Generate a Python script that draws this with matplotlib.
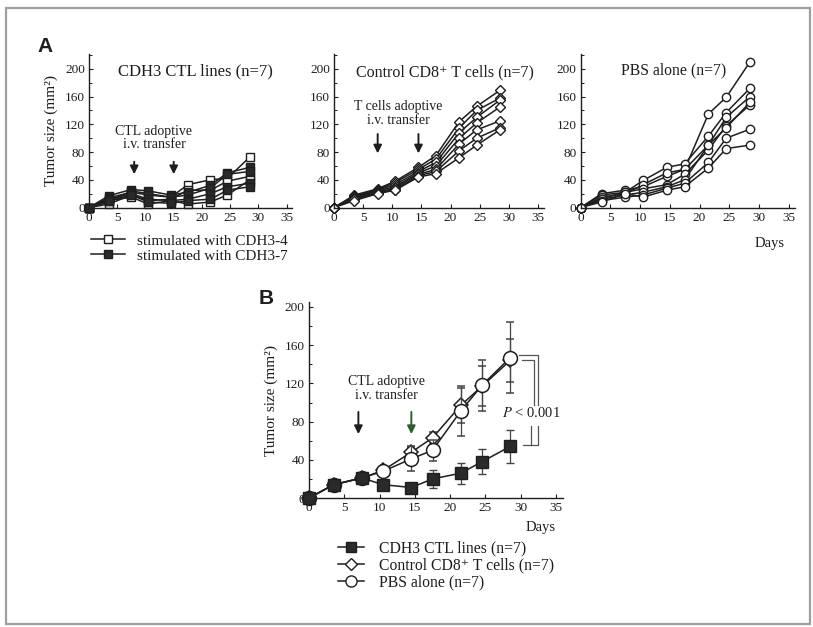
import matplotlib
matplotlib.use("Agg")
import matplotlib.pyplot as plt
from matplotlib.patches import Rectangle
from matplotlib.ticker import MultipleLocator

plt.rcParams['font.family'] = ['Liberation Serif', 'DejaVu Serif']
plt.rcParams['mathtext.fontset'] = 'stix'

# ---------------- data ----------------
days = [0, 3.5, 7.5, 10.5, 14.5, 17.5, 21.5, 24.5, 28.5]

# Panel A1: CDH3 CTL lines (open = CDH3-4, filled = CDH3-7)
cdh3_4 = [
    [0, 8, 24, 20, 15, 33, 40, 42, 73],
    [0, 5, 18, 10, 12, 25, 25, 38, 45],
    [0, 10, 15, 5, 10, 5, 8, 18, 40],
]
cdh3_7 = [
    [0, 17, 26, 24, 18, 22, 32, 50, 58],
    [0, 14, 22, 18, 15, 18, 28, 48, 52],
    [0, 12, 20, 12, 10, 12, 20, 30, 35],
    [0, 10, 18, 8, 6, 10, 12, 25, 30],
]
# Panel A2: control CD8+ T cells
control = [
    [0, 18, 27, 38, 58, 75, 124, 146, 169],
    [0, 16, 26, 36, 55, 70, 115, 140, 158],
    [0, 15, 25, 33, 52, 65, 108, 130, 155],
    [0, 14, 24, 30, 50, 60, 100, 122, 145],
    [0, 13, 22, 28, 48, 55, 92, 112, 125],
    [0, 12, 21, 26, 46, 52, 82, 100, 115],
    [0, 10, 20, 25, 44, 49, 72, 90, 112],
]
# Panel A3: PBS alone
pbs = [
    [0, 20, 25, 30, 45, 55, 135, 159, 210],
    [0, 18, 22, 39, 58, 63, 103, 137, 172],
    [0, 15, 20, 33, 50, 55, 90, 130, 160],
    [0, 13, 22, 27, 33, 48, 83, 118, 148],
    [0, 12, 18, 22, 30, 40, 90, 115, 152],
    [0, 10, 15, 18, 28, 35, 65, 100, 113],
    [0, 8, 20, 15, 25, 30, 57, 85, 90],
]

# Panel B: means and SD
mean_cdh3 = [0, 14, 21, 14, 11, 20, 26, 38, 54]
sd_cdh3 = [0, 0, 0, 2, 2, 9, 11, 13, 17]
mean_ctrl = [0, 14, 21, 29, 48, 63, 97, 117, 144]
sd_ctrl = [0, 0, 0, 2, 5, 6, 18, 21, 23]
mean_pbs = [0, 14, 21, 28, 41, 50, 91, 118, 147]
sd_pbs = [0, 0, 0, 2, 13, 11, 26, 27, 37]

xticks = [0, 5, 10, 15, 20, 25, 30, 35]
yticks = [0, 40, 80, 120, 160, 200]

LC = '#1e1e1e'

fig = plt.figure(figsize=(8.13, 6.27), dpi=100)
fig.patch.set_facecolor('white')
fig.patches.append(Rectangle((6 / 813, 1 - 624 / 627), (810 - 6) / 813, (624 - 8) / 627,
                             transform=fig.transFigure, fill=False, ec='#a0a0a0', lw=1.6))


def style(ax, ymax=222, ylab=True):
    ax.set_xlim(0, 36)
    ax.set_ylim(0, ymax)
    for s in ['top', 'right']:
        ax.spines[s].set_visible(False)
    for s in ['left', 'bottom']:
        ax.spines[s].set_color(LC)
        ax.spines[s].set_linewidth(1.0)
    ax.set_xticks(xticks)
    ax.set_yticks(yticks)
    ax.yaxis.set_minor_locator(MultipleLocator(20))
    ax.tick_params(axis='both', direction='in', length=3, width=0.8, labelsize=9.5,
                   colors=LC, pad=3)
    ax.tick_params(axis='y', which='minor', direction='in', length=2, width=0.7, colors=LC)
    ax.patch.set_alpha(0)
    if ylab:
        ax.set_ylabel('Tumor size (mm²)', fontsize=11, color=LC, labelpad=5)


# ---- A1 ----
axA1 = fig.add_axes([0.1095, 0.669, 0.250, 0.2456])
style(axA1)
for s in cdh3_4:
    axA1.plot(days, s, '-s', color=LC, lw=1.1, ms=5.5, mfc='white', mec=LC, mew=1.0, clip_on=False)
for s in cdh3_7:
    axA1.plot(days, s, '-s', color=LC, lw=1.1, ms=5.5, mfc='#2a2a2a', mec=LC, mew=1.0, clip_on=False)
axA1.text(18.8, 196, 'CDH3 CTL lines (n=7)', ha='center', va='center', fontsize=12, color=LC)
axA1.text(11.5, 110, 'CTL adoptive', ha='center', va='center', fontsize=10, color=LC)
axA1.text(11.5, 91, 'i.v. transfer', ha='center', va='center', fontsize=10, color=LC)
for d in [8, 15]:
    axA1.annotate('', xy=(d, 44), xytext=(d, 70),
                  arrowprops=dict(arrowstyle='-|>', color=LC, lw=1.4, mutation_scale=12))

# legend under A1
l1, = axA1.plot([], [], '-s', color=LC, lw=1.1, ms=5.5, mfc='white', mec=LC)
l2, = axA1.plot([], [], '-s', color=LC, lw=1.1, ms=5.5, mfc='#2a2a2a', mec=LC)
fig.legend([l1, l2], ['stimulated with CDH3-4', 'stimulated with CDH3-7'],
           loc='upper left', bbox_to_anchor=(0.095, 0.649), frameon=False, fontsize=11,
           handlelength=2.2, handletextpad=0.8, labelspacing=0.1, labelcolor=LC)

# ---- A2 ----
axA2 = fig.add_axes([0.4108, 0.669, 0.258, 0.2456])
style(axA2, ylab=False)
for s in control:
    axA2.plot(days, s, '-D', color=LC, lw=1.1, ms=5, mfc='white', mec=LC, mew=1.0, clip_on=False)
axA2.text(19, 195, 'Control CD8⁺ T cells (n=7)', ha='center', va='center', fontsize=11.5, color=LC)
axA2.text(11, 146, 'T cells adoptive', ha='center', va='center', fontsize=10, color=LC)
axA2.text(11, 125, 'i.v. transfer', ha='center', va='center', fontsize=10, color=LC)
for d in [7.5, 14.5]:
    axA2.annotate('', xy=(d, 74), xytext=(d, 110),
                  arrowprops=dict(arrowstyle='-|>', color=LC, lw=1.4, mutation_scale=12))

# ---- A3 ----
axA3 = fig.add_axes([0.7143, 0.669, 0.263, 0.2456])
style(axA3, ylab=False)
for s in pbs:
    axA3.plot(days, s, '-o', color=LC, lw=1.1, ms=6, mfc='white', mec=LC, mew=1.0, clip_on=False)
axA3.text(15.6, 197, 'PBS alone (n=7)', ha='center', va='center', fontsize=11.3, color=LC)
fig.text(770 / 813, 1 - 243 / 627, 'Days', ha='center', va='center', fontsize=10.5, color=LC)

fig.text(45 / 813, 1 - 47 / 627, 'A', ha='center', va='center', fontsize=15,
         fontweight='bold', family='Liberation Sans', color=LC)

# ---- B ----
axB = fig.add_axes([0.380, 0.2057, 0.3127, 0.3123])
style(axB, ymax=205)
axB.errorbar(days, mean_pbs, yerr=sd_pbs, fmt='-o', color=LC, lw=1.1, ms=10, mfc='white',
             mec=LC, mew=1.1, capsize=3, elinewidth=0.9, ecolor='#444', clip_on=False, zorder=3)
axB.errorbar(days, mean_ctrl, yerr=sd_ctrl, fmt='-D', color=LC, lw=1.1, ms=7, mfc='white',
             mec=LC, mew=1.1, capsize=3, elinewidth=0.9, ecolor='#444', clip_on=False, zorder=2)
axB.errorbar(days, mean_cdh3, yerr=sd_cdh3, fmt='-s', color=LC, lw=1.1, ms=8, mfc='#2a2a2a',
             mec=LC, mew=1.0, capsize=3, elinewidth=0.9, ecolor='#444', clip_on=False, zorder=4)
axB.text(11, 122, 'CTL adoptive', ha='center', va='center', fontsize=10, color=LC)
axB.text(11, 107, 'i.v. transfer', ha='center', va='center', fontsize=10, color=LC)
axB.annotate('', xy=(7, 64), xytext=(7, 93),
             arrowprops=dict(arrowstyle='-|>', color=LC, lw=1.4, mutation_scale=12))
axB.annotate('', xy=(14.5, 64), xytext=(14.5, 93),
             arrowprops=dict(arrowstyle='-|>', color='#2f5f2f', lw=1.4, mutation_scale=12))
# significance bracket
bc = '#555555'
axB.plot([29.8, 32.4, 32.4], [150, 150, 97], color=bc, lw=0.9, clip_on=False)
axB.plot([30.2, 31.8, 31.8], [145, 145, 97], color=bc, lw=0.9, clip_on=False)
axB.plot([32.4, 32.4, 30.3], [75, 55.5, 55.5], color=bc, lw=0.9, clip_on=False)
axB.plot([31.4, 31.4], [75, 55.5], color=bc, lw=0.9, clip_on=False)
axB.text(31.5, 89, '$P$ < 0.001', ha='center', va='center', fontsize=10.5, color=LC)
fig.text(541 / 813, 1 - 528 / 627, 'Days', ha='center', va='center', fontsize=10.5, color=LC)
fig.text(266 / 813, 1 - 298 / 627, 'B', ha='center', va='center', fontsize=15,
         fontweight='bold', family='Liberation Sans', color=LC)

h1, = axB.plot([], [], '-s', color=LC, lw=1.1, ms=7, mfc='#2a2a2a', mec=LC)
h2, = axB.plot([], [], '-D', color=LC, lw=1.1, ms=6, mfc='white', mec=LC)
h3, = axB.plot([], [], '-o', color=LC, lw=1.1, ms=8, mfc='white', mec=LC)
fig.legend([h1, h2, h3], ['CDH3 CTL lines (n=7)', 'Control CD8⁺ T cells (n=7)', 'PBS alone (n=7)'],
           loc='upper left', bbox_to_anchor=(0.398, 0.160), frameon=False, fontsize=11.3,
           handlelength=1.7, handletextpad=0.9, labelspacing=0.05, labelcolor=LC)

fig.savefig('out.png', dpi=100)
